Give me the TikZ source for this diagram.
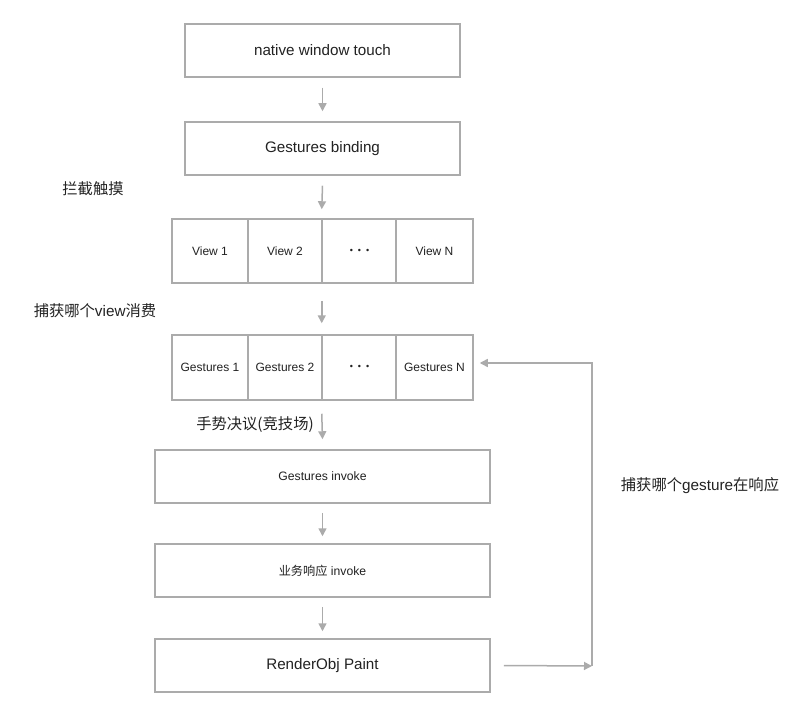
\documentclass[tikz,border=0pt]{standalone}
\usepackage{fontspec}
\setmainfont{Liberation Sans}
\newfontfamily\cjk{Noto Sans CJK SC}
\usetikzlibrary{arrows.meta}
\definecolor{edge}{HTML}{ABABAB}
\definecolor{ink}{HTML}{222222}
\newcommand{\dotsrow}{\fontsize{9}{10}\selectfont\textbullet\hspace{5pt}\textbullet\hspace{5pt}\textbullet}
\begin{document}
\begin{tikzpicture}[x=1pt,y=-1pt,
  box/.style={draw=edge,line width=1.5pt,fill=white,inner sep=0pt,text=ink},
  flow/.style={draw=edge,line width=1.5pt,-{Triangle[width=8pt,length=8pt]}},
  lbl/.style={text=ink,font=\fontsize{15.3}{17}\selectfont,inner sep=0pt}]
\useasboundingbox (0,0) rectangle (800,711);
% top boxes
\node[box,minimum width=275pt,minimum height=53pt,font=\fontsize{15.2}{17}\selectfont] (nwt) at (322.5,50.5) {native window touch};
\node[box,minimum width=275pt,minimum height=53pt,font=\fontsize{15.2}{17}\selectfont] (gb) at (322.5,148.5) {Gestures binding};
% view row
\node[box,minimum width=76pt,minimum height=64pt,font=\fontsize{12}{14}\selectfont] (v1) at (210,251) {View 1};
\node[box,minimum width=74pt,minimum height=64pt,font=\fontsize{12}{14}\selectfont] (v2) at (285,251) {View 2};
\node[box,minimum width=74pt,minimum height=64pt] (v3) at (359.5,251) {\dotsrow};
\node[box,minimum width=77pt,minimum height=64pt,font=\fontsize{12}{14}\selectfont] (vn) at (434.5,251) {View N};
% gestures row
\node[box,minimum width=76pt,minimum height=65pt,font=\fontsize{12}{14}\selectfont] (g1) at (210,367.5) {Gestures 1};
\node[box,minimum width=74pt,minimum height=65pt,font=\fontsize{12}{14}\selectfont] (g2) at (285,367.5) {Gestures 2};
\node[box,minimum width=74pt,minimum height=65pt] (g3) at (359.5,367.5) {\dotsrow};
\node[box,minimum width=77pt,minimum height=65pt,font=\fontsize{12}{14}\selectfont] (gn) at (434.5,367.5) {Gestures N};
% lower boxes
\node[box,minimum width=335pt,minimum height=53pt,font=\fontsize{12.2}{14}\selectfont] (gi) at (322.5,476.5) {Gestures invoke};
\node[box,minimum width=335pt,minimum height=53pt,font=\fontsize{12.2}{14}\selectfont] (yw) at (322.5,570.5) {{\cjk 业务响应} invoke};
\node[box,minimum width=335pt,minimum height=53pt,font=\fontsize{15.2}{17}\selectfont] (rp) at (322.5,665.5) {RenderObj Paint};
% labels
\node[lbl] (l1) at (93,189) {\cjk 拦截触摸};
\node[lbl] (l2) at (95,311) {{\cjk 捕获哪个}view{\cjk 消费}};
\node[lbl] (l3) at (255,425) {\cjk 手势决议(竞技场)};
\node[lbl] (l4) at (700,486) {{\cjk 捕获哪个}gesture{\cjk 在响应}};
% arrows
\draw[flow] ([yshift=-10pt]nwt.south) -- ([yshift=10pt]gb.north);
\draw[flow] ([yshift=-10pt]gb.south) -- ([yshift=9pt]v3.north west);
\draw[flow] ([yshift=-17pt]v3.south west) -- ([yshift=11pt]g3.north west);
\draw[flow] ([yshift=-13pt]g3.south west) -- ([yshift=10pt]gi.north);
\draw[flow] ([yshift=-9pt]gi.south) -- ([yshift=7pt]yw.north);
\draw[flow] ([yshift=-9pt]yw.south) -- ([yshift=7pt]rp.north);
\coordinate (c1) at (592,666);
\coordinate (c2) at (592,363);
\draw[flow] ([xshift=13pt]rp.east) -- (c1);
\draw[flow] (c1) -- (c2) -- ([xshift=6pt]gn.east |- c2);
\end{tikzpicture}
\end{document}
